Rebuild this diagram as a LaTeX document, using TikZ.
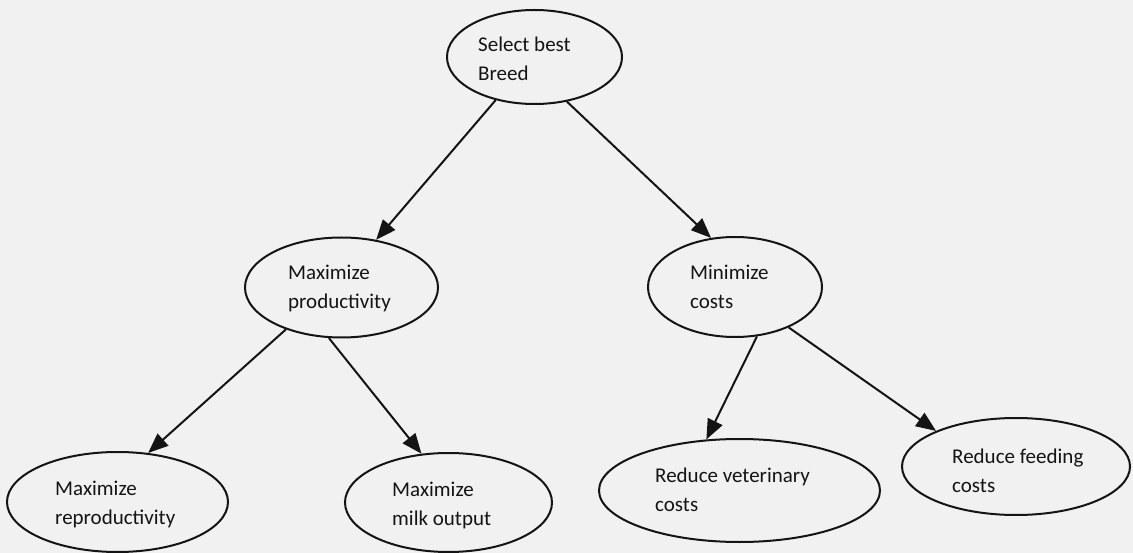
\documentclass[tikz,border=0pt]{standalone}
\usepackage{fontspec}
\setmainfont{Carlito}
\usetikzlibrary{shapes.geometric,arrows.meta}

\definecolor{paper}{RGB}{241,241,241}
\definecolor{ink}{RGB}{20,20,20}

\tikzset{
  oval/.style={ellipse, draw=ink, line width=2pt, inner sep=0pt},
  txt/.style={anchor=base west, inner sep=0pt, text=ink,
              font=\fontsize{21}{25}\selectfont},
  link/.style={draw=ink, line width=2pt,
               -{Triangle[length=20pt,width=16pt]}}
}

\begin{document}
\begin{tikzpicture}[x=1pt,y=-1pt]
  \fill[paper] (0,0) rectangle (1133,553);
  \useasboundingbox (0,0) rectangle (1133,553);

  % goal hierarchy: ellipses
  \node[oval, minimum width=175pt, minimum height=94pt]  (sel)  at (534.5,57)  {};
  \node[oval, minimum width=193pt, minimum height=100pt] (prod) at (341.5,287.5) {};
  \node[oval, minimum width=174pt, minimum height=100pt] (mini) at (735,287)   {};
  \node[oval, minimum width=221pt, minimum height=100pt] (repr) at (117.5,502) {};
  \node[oval, minimum width=207pt, minimum height=99pt]  (milk) at (448.5,502.5) {};
  \node[oval, minimum width=281pt, minimum height=103pt] (vet)  at (739.5,490.5) {};
  \node[oval, minimum width=228pt, minimum height=97pt]  (feed) at (1016,466.5) {};

  % labels
  \node[txt] (sel1)  at (478,52)  {Select best};
  \node[txt] (sel2)  at (478,81)  {Breed};
  \node[txt] (prod1) at (288,280) {Maximize};
  \node[txt] (prod2) at (288,309) {productivity};
  \node[txt] (mini1) at (690,280) {Minimize};
  \node[txt] (mini2) at (690,309) {costs};
  \node[txt] (repr1) at (55,495)  {Maximize};
  \node[txt] (repr2) at (55,524)  {reproductivity};
  \node[txt] (milk1) at (392,496) {Maximize};
  \node[txt] (milk2) at (392,525) {milk output};
  \node[txt] (vet1)  at (655,482) {Reduce veterinary};
  \node[txt] (vet2)  at (655,511) {costs};
  \node[txt] (feed1) at (952,463) {Reduce feeding};
  \node[txt] (feed2) at (952,492) {costs};

  % connectors
  \draw[link] (sel.228.5)  -- (prod.54.9);
  \draw[link] (sel.306.5)  -- (mini.116.6);
  \draw[link] (prod.217)   -- (repr.58.1);
  \draw[link] (prod.256.9) -- (milk.119.9);
  \draw[link] (mini.294.7) -- (vet.123.3);
  \draw[link] (mini.323.8) -- (feed.156.3);
\end{tikzpicture}
\end{document}
